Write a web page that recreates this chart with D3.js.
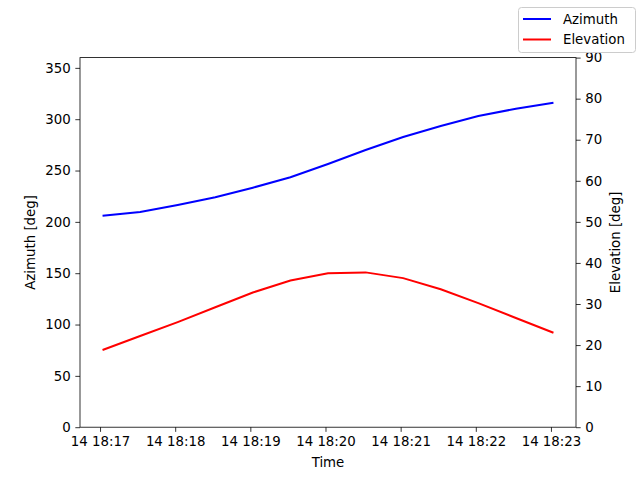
<!DOCTYPE html>
<html><head><meta charset="utf-8">
<script src="https://cdn.jsdelivr.net/npm/d3@7"></script>
<style>body{margin:0;background:#fff}svg{display:block}text{font-family:"DejaVu Sans",sans-serif}</style>
</head><body><svg id="c" width="640" height="480"></svg>
<script>
const times = ["18:17:02","18:17:32","18:18:02","18:18:32","18:19:02","18:19:32","18:20:02","18:20:32","18:21:02","18:21:32","18:22:02","18:22:32","18:23:02"];
const azimuth = [206.0,209.7,216.4,223.9,233.3,243.4,256.4,270.0,282.7,293.4,303.1,310.2,316.1];
const elevation = [18.8,22.2,25.6,29.2,32.8,35.7,37.5,37.7,36.3,33.6,30.2,26.6,23.0];
const azTicks = [0,50,100,150,200,250,300,350];
const elTicks = [0,10,20,30,40,50,60,70,80,90];
const seriesNames = ["Azimuth","Elevation"];

const parse = d3.timeParse("%Y-%m-%d %H:%M:%S");
const dates = times.map(t => parse("2024-01-14 " + t));
const svg = d3.select("#c");
const L = 80, R = 576, T = 57.6, B = 427.2;
const t0 = dates[0], t1 = dates[dates.length-1];
const span = t1 - t0;
const x = d3.scaleTime().domain([new Date(+t0 - 0.05*span), new Date(+t1 + 0.05*span)]).range([L, R]);
const yL = d3.scaleLinear().domain([0,360]).range([B,T]);
const yR = d3.scaleLinear().domain([0,90]).range([B,T]);
const fs = 13.33;

const xTicks = d3.range(17, 24).map(m => parse("2024-01-14 18:" + m + ":00"));
const xAxis = d3.axisBottom(x).tickValues(xTicks).tickFormat(d3.timeFormat("%d %H:%M")).tickSizeInner(4.67).tickSizeOuter(0).tickPadding(4.67);
const gx = svg.append("g").attr("transform", `translate(0,${B})`).call(xAxis);
const gl = svg.append("g").attr("transform", `translate(${L},0)`).call(d3.axisLeft(yL).tickValues(azTicks).tickSizeInner(4.67).tickSizeOuter(0).tickPadding(4.67));
const gr = svg.append("g").attr("transform", `translate(${R},0)`).call(d3.axisRight(yR).tickValues(elTicks).tickSizeInner(4.67).tickSizeOuter(0).tickPadding(4.67));
[gx,gl,gr].forEach(g => {
  g.selectAll(".domain").remove();
  g.selectAll("text").attr("font-size", fs).attr("fill","#000").attr("font-family","DejaVu Sans");
  g.selectAll("line").attr("stroke","#000").attr("stroke-width",0.8);
});
svg.append("rect").attr("x",L).attr("y",T).attr("width",R-L).attr("height",B-T).attr("fill","none").attr("stroke","#000").attr("stroke-width",0.8);

const lineA = d3.line().x((d,i)=>x(dates[i])).y(d=>yL(d));
const lineE = d3.line().x((d,i)=>x(dates[i])).y(d=>yR(d));
svg.append("path").datum(azimuth).attr("d", lineA).attr("fill","none").attr("stroke","blue").attr("stroke-width",2);
svg.append("path").datum(elevation).attr("d", lineE).attr("fill","none").attr("stroke","red").attr("stroke-width",2);

svg.append("text").attr("x",(L+R)/2).attr("y",467).attr("text-anchor","middle").attr("font-size",fs).text("Time");
svg.append("text").attr("transform",`translate(35,${(T+B)/2}) rotate(-90)`).attr("text-anchor","middle").attr("font-size",fs).text("Azimuth [deg]");
svg.append("text").attr("transform",`translate(620,${(T+B)/2}) rotate(-90)`).attr("text-anchor","middle").attr("font-size",fs).text("Elevation [deg]");

// legend
const lg = svg.append("g");
lg.append("rect").attr("x",518.5).attr("y",7.5).attr("width",117).attr("height",45).attr("rx",3).attr("fill","#fff").attr("stroke","#ccc").attr("stroke-width",1);
const colors = ["blue","red"];
seriesNames.forEach((n,i) => {
  const yy = 19 + i*20.5;
  lg.append("line").attr("x1",523).attr("x2",551).attr("y1",yy).attr("y2",yy).attr("stroke",colors[i]).attr("stroke-width",2);
  lg.append("text").attr("x",563).attr("y",yy+4.7).attr("font-size",fs).text(n);
});
</script></body></html>
